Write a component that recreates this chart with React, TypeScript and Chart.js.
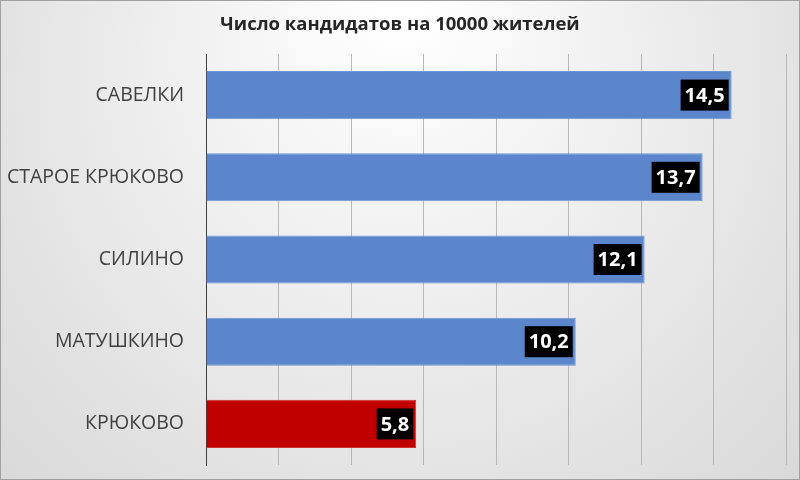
import React, { useEffect, useRef } from "react";
import { Chart, registerables } from "chart.js";

Chart.register(...registerables);

const title = "Число кандидатов на 10000 жителей";
const categories = ["САВЕЛКИ", "СТАРОЕ КРЮКОВО", "СИЛИНО", "МАТУШКИНО", "КРЮКОВО"];
const values = [14.5, 13.7, 12.1, 10.2, 5.8];
const barColors = ["#5b86cb", "#5b86cb", "#5b86cb", "#5b86cb", "#c00000"];
const barBorders = ["#6f95d3", "#6f95d3", "#6f95d3", "#6f95d3", "#d03030"];
const xMax = 16;
const xStep = 2;

const FONT = "'Open Sans', 'Noto Sans', sans-serif";

const bgPlugin = {
  id: "bg",
  beforeDraw(chart: any) {
    const { ctx, width, height } = chart;
    ctx.save();
    const g = ctx.createRadialGradient(width / 2, 0, 20, width / 2, height * 0.3, width * 0.75);
    g.addColorStop(0, "#ffffff");
    g.addColorStop(0.35, "#f0f0f0");
    g.addColorStop(1, "#d4d4d4");
    ctx.fillStyle = g;
    ctx.fillRect(0, 0, width, height);
    ctx.strokeStyle = "#a0a0a0";
    ctx.lineWidth = 1;
    ctx.strokeRect(0.5, 0.5, width - 1, height - 1);
    ctx.fillStyle = "#262626";
    ctx.font = `bold 18.5px ${FONT}`;
    ctx.textAlign = "center";
    ctx.textBaseline = "middle";
    ctx.fillText(title, width / 2, 25);
    ctx.restore();
  },
};

const labelPlugin = {
  id: "valueLabels",
  afterDatasetsDraw(chart: any) {
    const { ctx } = chart;
    const meta = chart.getDatasetMeta(0);
    ctx.save();
    ctx.font = `bold 20px ${FONT}`;
    ctx.textBaseline = "middle";
    ctx.textAlign = "right";
    meta.data.forEach((bar: any, i: number) => {
      const txt = values[i].toFixed(1).replace(".", ",");
      const w = ctx.measureText(txt).width;
      const right = bar.x - 3;
      const boxW = w + 8;
      const boxH = 31;
      ctx.fillStyle = "#000000";
      ctx.fillRect(right - boxW, bar.y - boxH / 2, boxW, boxH);
      ctx.fillStyle = "#ffffff";
      ctx.fillText(txt, right - 4, bar.y + 1);
    });
    ctx.restore();
  },
};

export default function App() {
  const ref = useRef<HTMLCanvasElement>(null);
  useEffect(() => {
    const chart = new Chart(ref.current!, {
      type: "bar",
      data: {
        labels: categories,
        datasets: [
          {
            data: values,
            backgroundColor: barColors,
            borderColor: barBorders,
            borderWidth: 1,
            barPercentage: 0.585,
            categoryPercentage: 1,
          },
        ],
      },
      options: {
        indexAxis: "y",
        animation: false,
        responsive: false,
        maintainAspectRatio: false,
        layout: { padding: { left: 0, top: 54, right: 14, bottom: 15 } },
        plugins: { legend: { display: false }, tooltip: { enabled: false }, title: { display: false } },
        scales: {
          x: {
            min: 0,
            max: xMax,
            ticks: { display: false, stepSize: xStep },
            grid: { color: "#b8b8b8", drawTicks: false, lineWidth: 1 },
            border: { display: false },
            afterFit: (s: any) => {
              s.height = 0;
              s.paddingLeft = 0;
              s.paddingRight = 0;
            },
          },
          y: {
            ticks: { color: "#404040", font: { family: FONT, size: 19.5 }, padding: 22 },
            grid: { display: false, drawTicks: false },
            border: { display: true, color: "#404040", width: 1 },
            afterFit: (s: any) => {
              s.width = 206;
              s.paddingTop = 0;
              s.paddingBottom = 0;
            },
          },
        },
      },
      plugins: [bgPlugin, labelPlugin],
    } as any);
    return () => chart.destroy();
  }, []);
  return (
    <div style={{ position: "fixed", left: 0, top: 0, width: 800, height: 480 }}>
      <canvas ref={ref} width={800} height={480} style={{ width: 800, height: 480 }} />
    </div>
  );
}
